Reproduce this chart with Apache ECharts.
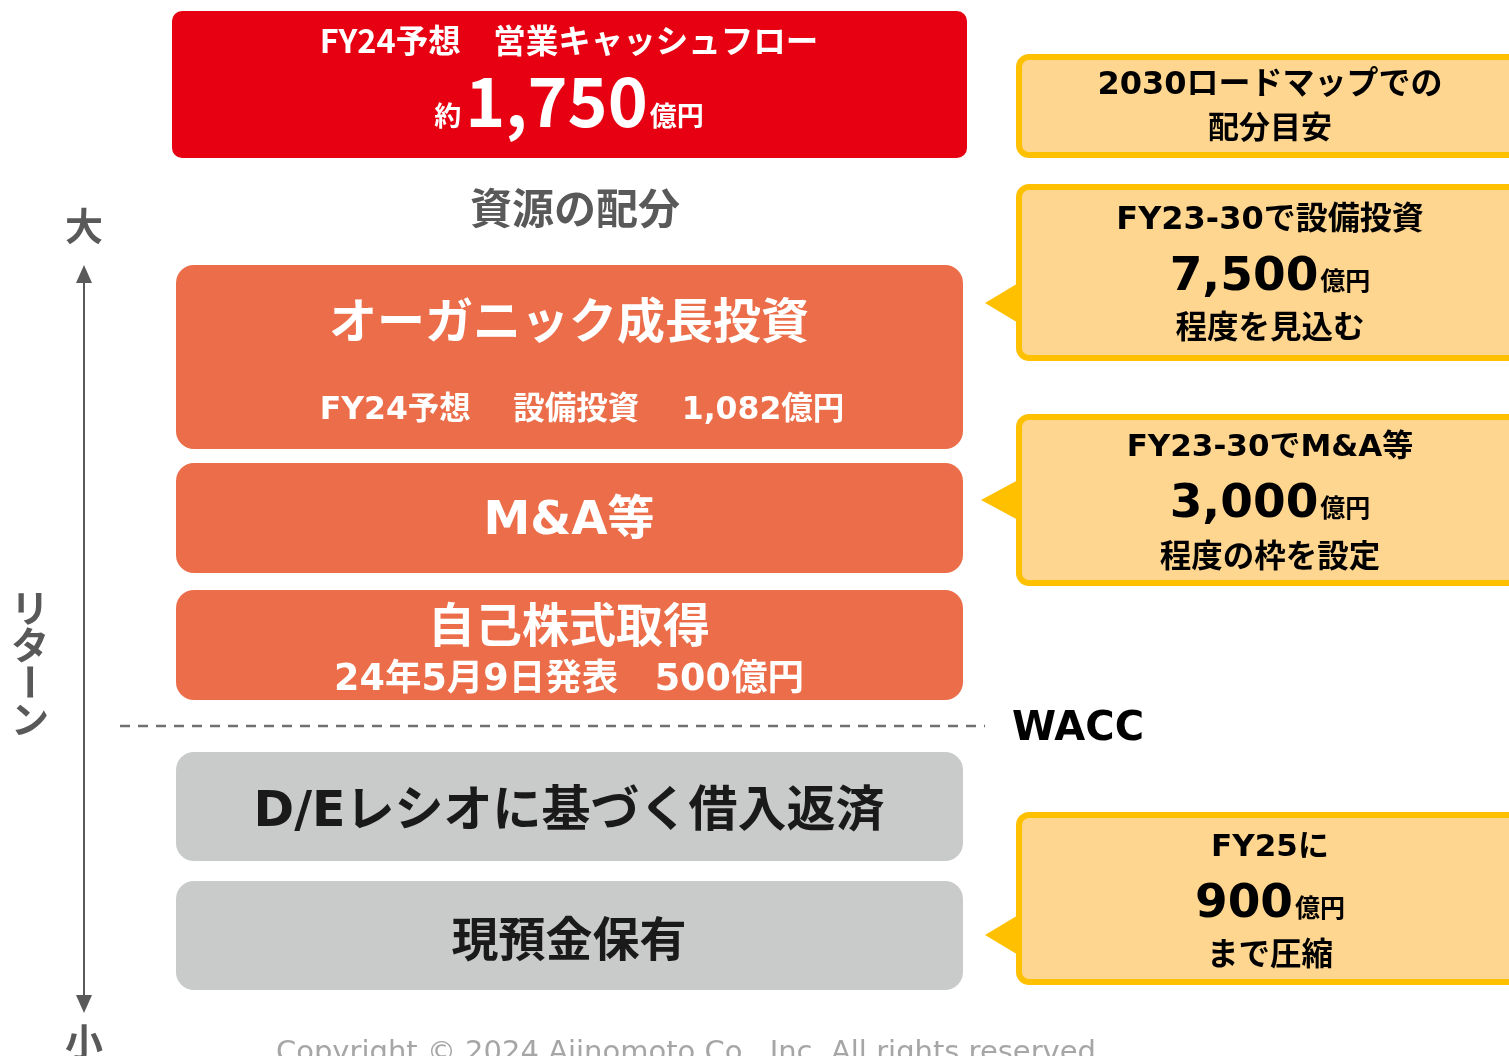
<!DOCTYPE html>
<html>
<head>
<meta charset="utf-8">
<script src="https://cdn.jsdelivr.net/npm/echarts@6/dist/echarts.min.js"></script>
<style>
  html, body { margin: 0; padding: 0; background: #fff; }
  #main { width: 1509px; height: 1056px; }
</style>
</head>
<body>
<div id="main"></div>
<script>
// texts of the diagram
const cashFlowTitle = "FY24予想　営業キャッシュフロー"
const cashFlowValue = ["約", "1,750", "億円"]
const allocTitle = "資源の配分"
const growthItems = ["オーガニック成長投資", "M&A等", "自己株式取得"]
const growthNotes = ["FY24予想　 設備投資　 1,082億円", "", "24年5月9日発表　500億円"]
const lowItems = ["D/Eレシオに基づく借入返済", "現預金保有"]
const roadmapNote = ["2030ロードマップでの", "配分目安"]
const calloutHeads = ["FY23-30で設備投資", "FY23-30でM&A等", "FY25に"]
const calloutValues = ["7,500", "3,000", "900"]
const calloutTails = ["程度を見込む", "程度の枠を設定", "まで圧縮"]
const unit = "億円"
const axisLabels = ["大", "リターン", "小"]
const hurdleLabel = "WACC"
const copyright = "Copyright © 2024 Ajinomoto Co., Inc. All rights reserved"

const FJ = '"Noto Sans CJK JP", sans-serif'
const FM = '"DejaVu Sans", "Noto Sans CJK JP", sans-serif'

const RED = "#E60012"
const ORANGE = "#EC6D49"
const GRAY = "#C9CACA"
const YFILL = "#FFD690"
const YLINE = "#FFC000"
const DARK = "#595959"

const measureCtx = document.createElement("canvas").getContext("2d")
function textWidth(text, font) {
  measureCtx.font = font
  return measureCtx.measureText(text).width
}

function rect(x, y, w, h, r, fill, stroke, lw) {
  return {
    type: "rect",
    shape: { x: x, y: y, width: w, height: h, r: r },
    style: { fill: fill, stroke: stroke || null, lineWidth: lw || 0 }
  }
}

function label(text, x, y, size, color, font, weight, align) {
  return {
    type: "text",
    style: {
      text: text,
      x: x,
      y: y,
      align: align || "center",
      verticalAlign: "middle",
      fill: color,
      font: (weight || "bold") + " " + size + "px " + font
    }
  }
}

// number with small units, centred as a whole on cx
function amount(parts, cx, yBig, ySmall, big, small, color, bigFont) {
  const fb = "bold " + big + "px " + bigFont
  const fs = "bold " + small + "px " + FJ
  const w0 = parts[0] ? textWidth(parts[0], fs) + 4 : 0
  const w1 = textWidth(parts[1], fb)
  const w2 = textWidth(parts[2], fs) + 2
  let x = cx - (w0 + w1 + w2) / 2
  let out = []
  if (parts[0]) out.push(label(parts[0], x, ySmall, small, color, FJ, "bold", "left"))
  x += w0
  out.push(label(parts[1], x, yBig, big, color, bigFont, "bold", "left"))
  x += w1 + 2
  out.push(label(parts[2], x, ySmall, small, color, FJ, "bold", "left"))
  return out
}

let g = []

// top red box
g.push(rect(172, 11, 795, 147, 10, RED))
g.push(label(cashFlowTitle, 569, 41, 32.5, "#fff", FJ))
g.push(...amount(cashFlowValue, 569, 101, 116, 68, 27, "#fff", FJ))

g.push(label(allocTitle, 575, 208, 42, DARK, FJ))

// orange boxes above WACC
const orangeRows = [
  { y: 265, h: 184, title: 320, note: 411, noteX: 582, size: 48, noteSize: 31.5 },
  { y: 463, h: 110, title: 522, size: 47 },
  { y: 590, h: 110, title: 624, note: 681, noteX: 569, size: 47, noteSize: 36.5 }
]
orangeRows.forEach((row, i) => {
  g.push(rect(176, row.y, 787, row.h, 18, ORANGE))
  g.push(label(growthItems[i], 569, row.title, row.size, "#fff", i === 1 ? FM : FJ))
  if (growthNotes[i]) g.push(label(growthNotes[i], row.noteX, row.note, row.noteSize, "#fff", FM))
})

// gray boxes below WACC
const grayRows = [
  { y: 752, h: 109, title: 813, font: FM, size: 49 },
  { y: 881, h: 109, title: 938, font: FJ, size: 47 }
]
grayRows.forEach((row, i) => {
  g.push(rect(176, row.y, 787, row.h, 18, GRAY))
  g.push(label(lowItems[i], 569, row.title, row.size, "#1a1a1a", row.font))
})

// WACC line
g.push({
  type: "line",
  shape: { x1: 120, y1: 726, x2: 985, y2: 726 },
  style: { stroke: "#707070", lineWidth: 2.5, lineDash: [10, 8] }
})
g.push(label(hurdleLabel, 1012, 730, 40, "#000", FM, "bold", "left"))

// return axis
g.push({ type: "line", shape: { x1: 84, y1: 278, x2: 84, y2: 1000 }, style: { stroke: DARK, lineWidth: 2 } })
g.push({ type: "polygon", shape: { points: [[84, 265], [76, 283], [92, 283]] }, style: { fill: DARK } })
g.push({ type: "polygon", shape: { points: [[84, 1013], [76, 995], [92, 995]] }, style: { fill: DARK } })
g.push(label(axisLabels[0], 84, 226, 38, DARK, FJ))
g.push(label(axisLabels[2], 84, 1042, 38, DARK, FJ))
const ret = axisLabels[1].split("")
ret.forEach((ch, i) => {
  let t = label(ch, 30, 608 + i * 37, 38, DARK, FJ)
  if (ch === "ー") {
    t.rotation = -Math.PI / 2
    t.x = 30
    t.y = 608 + i * 37
    t.style.x = 0
    t.style.y = 0
  }
  g.push(t)
})

// right side callouts
g.push(rect(1019, 57, 520, 98, 10, YFILL, YLINE, 6))
g.push(label(roadmapNote[0], 1270, 86, 32, "#000", FM))
g.push(label(roadmapNote[1], 1270, 126, 31, "#000", FJ))

const callouts = [
  { y: 187, h: 171, tip: 303, tipX: 985, lines: [221, 278, 326], head: 32 },
  { y: 417, h: 166, tip: 500, tipX: 981, lines: [448, 505, 555], head: 31 },
  { y: 815, h: 167, tip: 935, tipX: 985, lines: [848, 905, 953], head: 31 }
]
callouts.forEach((c, i) => {
  g.push({
    type: "polygon",
    shape: { points: [[c.tipX, c.tip], [1020, c.tip - 21], [1020, c.tip + 21]] },
    style: { fill: YLINE }
  })
  g.push(rect(1019, c.y, 520, c.h, 10, YFILL, YLINE, 6))
  g.push(label(calloutHeads[i], 1270, c.lines[0], c.head, "#000", FM))
  g.push(...amount(["", calloutValues[i], unit], 1270, c.lines[1], c.lines[1] + 2, 47, 25, "#000", FM))
  g.push(label(calloutTails[i], 1270, c.lines[2], 31.5, "#000", FJ))
})

g.push(label(copyright, 686, 1053, 29, "#A6A6A6", FM, "normal"))

const myChart = echarts.init(document.getElementById("main"))
myChart.setOption({
  backgroundColor: "#fff",
  animation: false,
  graphic: { elements: g }
})
window.addEventListener("resize", function () {
  myChart.resize()
})
</script>
</body>
</html>
